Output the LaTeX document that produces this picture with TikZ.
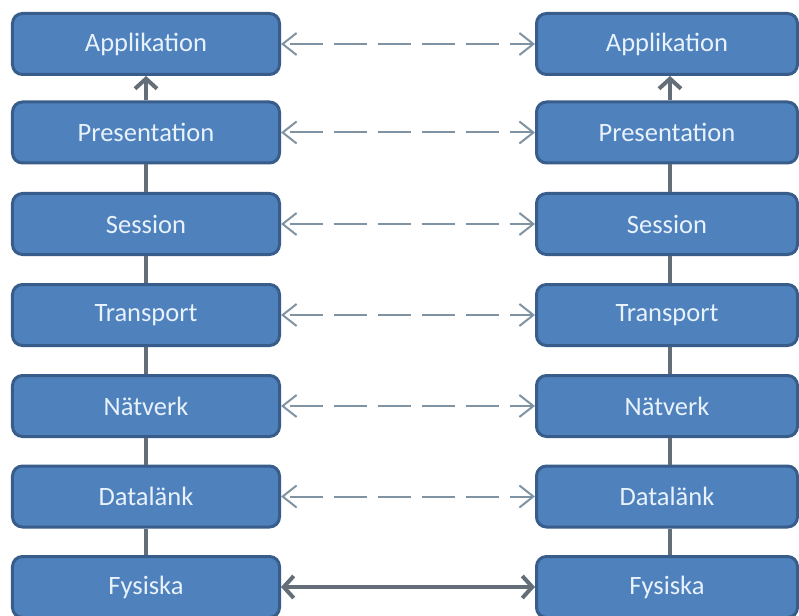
\documentclass[tikz,border=0pt]{standalone}
\usepackage{fontspec}
\setmainfont{Carlito}
\usetikzlibrary{arrows.meta}
\definecolor{boxfill}{HTML}{4F81BD}
\definecolor{boxline}{HTML}{385D8A}
\definecolor{boxtext}{HTML}{E8F2FC}
\definecolor{vline}{HTML}{646E78}
\definecolor{dline}{HTML}{7F93A3}
\tikzset{
  layer/.style={draw=boxline, line width=3bp, fill=boxfill, rounded corners=10bp,
    minimum height=61bp, text=boxtext, font=\fontsize{26.5bp}{30bp}\selectfont, inner sep=0pt},
  leftlayer/.style={layer, minimum width=267bp},
  rightlayer/.style={layer, minimum width=261bp},
  stack/.style={draw=vline, line width=4bp},
  uptip/.style={-{Straight Barb[length=10bp,width=22bp]}},
  peer/.style={draw=dline, line width=2bp, dash pattern=on 33bp off 11bp, dash phase=-6bp,
    {Straight Barb[length=14bp,width=22bp]}-{Straight Barb[length=14bp,width=22bp]}},
  phys/.style={draw=vline, line width=4bp,
    {Straight Barb[length=10bp,width=22bp]}-{Straight Barb[length=10bp,width=22bp]}}
}
\begin{document}
\begin{tikzpicture}[x=1bp,y=-1bp]
\useasboundingbox (0,0) rectangle (799,616);
\fill[white] (0,0) rectangle (799,616);
\foreach \n/\t/\y in {a/Applikation/44, p/Presentation/132.5, s/Session/224, t/Transport/315, n/Nätverk/406, d/Datalänk/496.5, f/Fysiska/587}{
  \node[leftlayer] (L\n) at (146,\y) {\t};
  \node[rightlayer] (R\n) at (667,\y) {\t};
}
% vertical stack lines
\foreach \u/\l in {p/s, s/t, t/n, n/d, d/f}{
  \draw[stack] (L\u.south) -- (L\l.north);
  \draw[stack] ([xshift=3bp]R\u.south) -- ([xshift=3bp]R\l.north);
}
\draw[stack, uptip] (Lp.north) -- (La.south);
\draw[stack, uptip] ([xshift=3bp]Rp.north) -- ([xshift=3bp]Ra.south);
% peer connections
\foreach \n in {a,p,s,t,n,d}{
  \draw[peer] (L\n.east) -- (R\n.west);
}
\draw[phys] (Lf.east) -- (Rf.west);
\end{tikzpicture}
\end{document}
